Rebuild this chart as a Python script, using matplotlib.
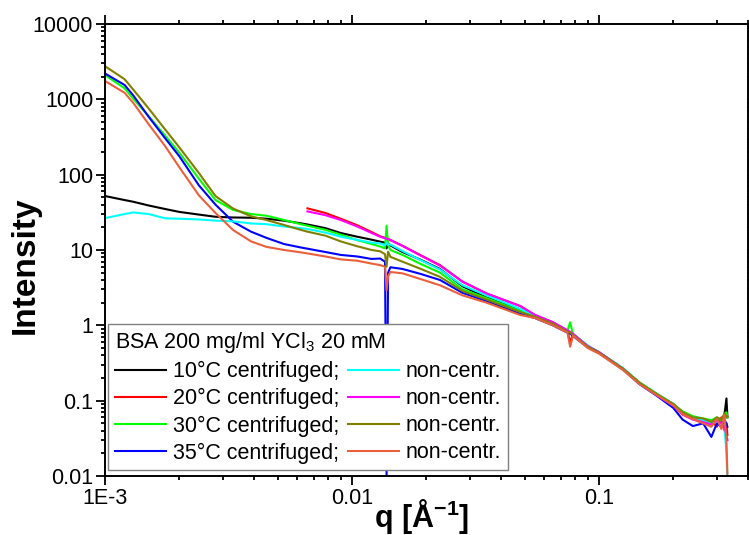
import numpy as np
import matplotlib
matplotlib.use("Agg")
import matplotlib.pyplot as plt
from matplotlib.ticker import NullFormatter

plt.rcParams["font.family"] = ["Liberation Sans", "DejaVu Sans"]
plt.rcParams["mathtext.fontset"] = "custom"
plt.rcParams["mathtext.rm"] = "Liberation Sans"
plt.rcParams["mathtext.it"] = "Liberation Sans:italic"
plt.rcParams["mathtext.bf"] = "Liberation Sans:bold"
plt.rcParams["mathtext.default"] = "regular"

nan = np.nan

# q grid (1/A), low-q part then the common high-q tail
q_vals = [0.0010, 0.0012, 0.0013, 0.0015, 0.00175, 0.0020, 0.0024, 0.0028, 0.0033,
          0.0039, 0.0045, 0.0053, 0.0062, 0.0066, 0.0078, 0.0090, 0.0105, 0.0120,
          0.0130, 0.0136, 0.0138, 0.0140, 0.0143, 0.0160, 0.0190, 0.0227, 0.0280,
          0.0350, 0.0480,
          0.055, 0.065, 0.0745, 0.0764, 0.0785, 0.090, 0.100, 0.125, 0.146, 0.170,
          0.200, 0.218, 0.240, 0.264, 0.285, 0.300, 0.313, 0.322, 0.328, 0.331]

i_10c = [52, 46, 43.7, 39, 35, 32, 29.5, 27.6, 27, 26.8, 26, 24.5, 22.6, 21.8, 19.5,
         16.8, 15, 13.7, 12.9, 12.5, 10.5, 12.0, 11.5, 9.4, 7.4, 5.6, 3.3, 2.35, 1.62,
         1.32, 1.06, 0.83, 0.78, 0.75, 0.52, 0.43, 0.265, 0.172, 0.124, 0.09, 0.07,
         0.06, 0.056, 0.05, 0.058, 0.052, 0.065, 0.107, 0.06]
i_20c = [nan, nan, nan, nan, nan, nan, nan, nan, nan, nan, nan, nan, nan, 35.7, 31, 26,
         21.3, 17.3, 15.2, 14.5, 14.3, 14.1, 13.6, 11.4, 8.5, 6.3, 3.8, 2.65, 1.8,
         1.36, 1.1, 0.85, 0.6, 0.76, 0.53, 0.44, 0.265, 0.17, 0.122, 0.088, 0.066,
         0.058, 0.05, 0.055, 0.045, 0.06, 0.04, 0.05, 0.035]
i_30c = [2100, 1400, 1020, 600, 330, 195, 88, 46, 34, 30, 28.5, 25, 22, 21, 18.5, 16,
         13.5, 12, 11.1, 10.5, 21, 11.5, 10.0, 8.6, 6.5, 5.0, 3.0, 2.3, 1.55,
         1.34, 1.08, 0.84, 1.1, 0.76, 0.53, 0.44, 0.27, 0.175, 0.126, 0.09, 0.072,
         0.062, 0.058, 0.055, 0.06, 0.055, 0.065, 0.07, 0.06]
i_35c = [2200, 1550, 1130, 590, 305, 175, 72, 40, 23.7, 17.5, 14.5, 12, 10.8, 10.4,
         9.4, 8.6, 8.2, 7.6, 7.7, 7.0, 0.01, 5.0, 5.9, 5.6, 4.8, 4.0, 2.7, 2.1, 1.42,
         1.25, 1.0, 0.8, 0.78, 0.72, 0.51, 0.43, 0.26, 0.165, 0.118, 0.08, 0.056,
         0.046, 0.05, 0.033, 0.05, 0.045, 0.055, 0.05, 0.045]
i_10n = [26.5, 30, 31.5, 30, 26.3, 26, 25.4, 24.5, 24.0, 22.5, 22, 20.5, 19.5, 19, 17,
         15, 13.6, 12.5, 12.2, 11.5, 12.5, 11.8, 11.8, 9.7, 7.3, 5.5, 3.4, 2.5, 1.65,
         1.35, 1.08, 0.85, 0.82, 0.77, 0.54, 0.44, 0.27, 0.172, 0.124, 0.09, 0.068,
         0.06, 0.055, 0.05, 0.055, 0.05, 0.045, 0.02, 0.009]
i_20n = [nan, nan, nan, nan, nan, nan, nan, nan, nan, nan, nan, nan, nan, 32.5, 29, 25,
         20.5, 16.8, 15, 14.3, 14.1, 13.9, 13.5, 11.3, 8.4, 6.2, 3.8, 2.65, 1.8,
         1.38, 1.1, 0.86, 0.82, 0.77, 0.53, 0.44, 0.265, 0.17, 0.12, 0.086, 0.065,
         0.056, 0.052, 0.048, 0.055, 0.05, 0.045, 0.035, 0.03]
i_30n = [2750, 1850, 1350, 760, 400, 230, 105, 52, 35.5, 28, 25, 21.5, 18.5, 17.5,
         15.5, 13, 11.2, 10.0, 9.6, 8.8, 6.0, 9.5, 8.1, 7.0, 5.6, 4.4, 2.85, 2.2, 1.5,
         1.3, 1.05, 0.82, 0.8, 0.74, 0.52, 0.43, 0.265, 0.172, 0.124, 0.09, 0.07,
         0.06, 0.058, 0.052, 0.06, 0.056, 0.068, 0.06, 0.062]
i_35n = [1750, 1220, 900, 470, 240, 125, 53, 31, 18.4, 13, 11, 10, 9.3, 9.0, 8.2, 7.5,
         7.2, 6.6, 6.3, 6.0, 2.9, 4.5, 5.1, 4.9, 4.1, 3.4, 2.5, 2.0, 1.37,
         1.25, 1.0, 0.8, 0.52, 0.73, 0.5, 0.42, 0.255, 0.165, 0.12, 0.086, 0.066,
         0.057, 0.05, 0.045, 0.058, 0.042, 0.065, 0.03, 0.0107]

series = [i_10c, i_20c, i_30c, i_35c, i_10n, i_20n, i_30n, i_35n]
labels = ["10°C centrifuged;", "20°C centrifuged;", "30°C centrifuged;",
          "35°C centrifuged;", "non-centr.", "non-centr.", "non-centr.", "non-centr."]
colors = ["#000000", "#ff0000", "#00ff00", "#0000ff",
          "#00ffff", "#ff00ff", "#808000", "#eb5f3c"]

x_ticks = [1e-3, 1e-2, 1e-1]
x_tick_labels = ["1E-3", "0.01", "0.1"]
y_ticks = [0.01, 0.1, 1, 10, 100, 1000, 10000]
y_tick_labels = ["0.01", "0.1", "1", "10", "100", "1000", "10000"]

fig = plt.figure(figsize=(7.49, 5.35), dpi=100)
ax = fig.add_axes([0.1402, 0.1103, 0.8581, 0.8449])

for vals, lab, col in zip(series, labels, colors):
    ax.plot(q_vals, vals, color=col, lw=1.5, label=lab)

ax.set_xscale("log")
ax.set_yscale("log")
ax.set_xticks(x_ticks, x_tick_labels)
ax.set_yticks(y_ticks, y_tick_labels)

# minor ticks at 2..9 of every decade
mult = np.arange(2, 10)
x_minor = np.concatenate([mult * d for d in [1e-3, 1e-2, 1e-1]])
y_minor = np.concatenate([mult * d for d in [1e-2, 1e-1, 1, 10, 100, 1000]])
ax.set_xticks(x_minor, minor=True)
ax.set_yticks(y_minor, minor=True)
ax.xaxis.set_minor_formatter(NullFormatter())
ax.yaxis.set_minor_formatter(NullFormatter())
ax.set_xlim(1e-3, 0.4)
ax.set_ylim(0.01, 10000)

for sp in ax.spines.values():
    sp.set_linewidth(1.4)
ax.tick_params(which="both", direction="out", top=True, right=True, width=1.3,
               labelsize=15.5)
ax.tick_params(which="major", length=6.5, pad=2)
ax.tick_params(which="minor", length=3.2)

ax.set_xlabel(r"q [Å$^{\mathbf{-1}}$]", fontsize=22, fontweight="bold")
ax.set_ylabel("Intensity", fontsize=24, fontweight="bold")
ax.xaxis.set_label_coords(0.492, -0.046)
ax.yaxis.set_label_coords(-0.1, 0.467)

leg = ax.legend(ncol=2, loc="lower left", bbox_to_anchor=(0.005, 0.013),
                borderaxespad=0, title="BSA 200 mg/ml YCl$_3$ 20 mM",
                title_fontsize=15.5, fontsize=15.5, alignment="left",
                handlelength=2.4, handletextpad=0.3, columnspacing=0.4,
                labelspacing=0.28, borderpad=0.3, fancybox=False, framealpha=1)
leg.get_frame().set_edgecolor("#808080")
leg.get_frame().set_linewidth(1.0)

fig.savefig("out.png", dpi=100)
